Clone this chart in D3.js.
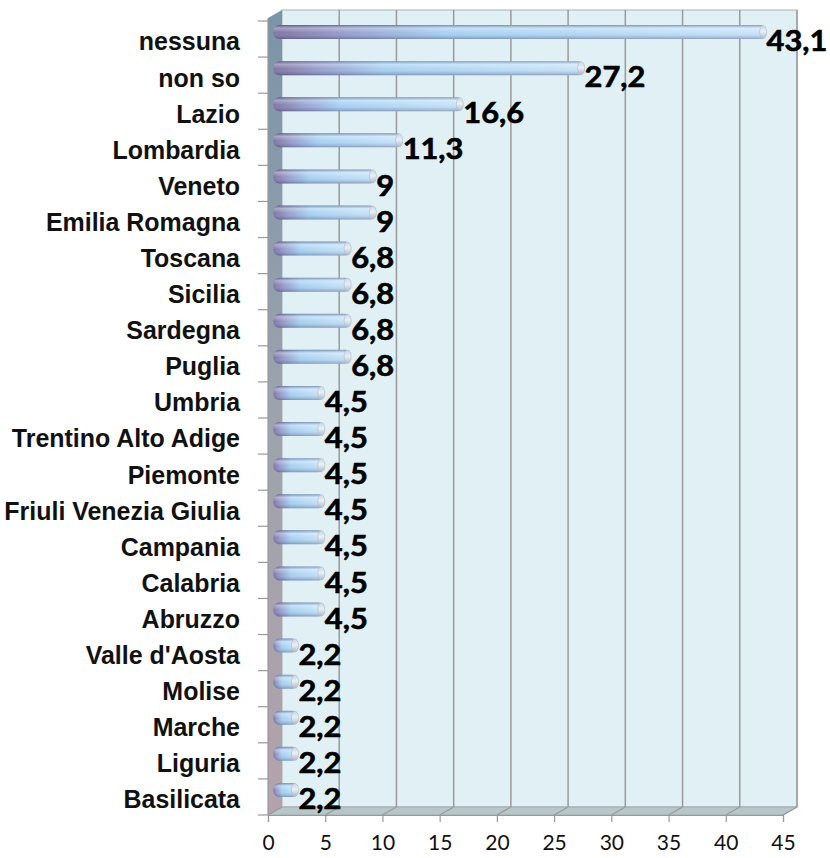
<!DOCTYPE html>
<html><head><meta charset="utf-8">
<script src="https://cdn.jsdelivr.net/npm/d3@7"></script>
<style>html,body{margin:0;padding:0;background:#fff;}</style>
</head><body>
<svg id="chart" width="830" height="858"></svg>
<script>
const categories = ["nessuna","non so","Lazio","Lombardia","Veneto","Emilia Romagna","Toscana","Sicilia","Sardegna","Puglia","Umbria","Trentino Alto Adige","Piemonte","Friuli Venezia Giulia","Campania","Calabria","Abruzzo","Valle d'Aosta","Molise","Marche","Liguria","Basilicata"];
const values = [43.1,27.2,16.6,11.3,9,9,6.8,6.8,6.8,6.8,4.5,4.5,4.5,4.5,4.5,4.5,4.5,2.2,2.2,2.2,2.2,2.2];
const xTicks = [0,5,10,15,20,25,30,35,40,45];

const svg = d3.select("#chart");
const defs = svg.append("defs");

// geometry
const depthX = 14, depthY = -8;          // 3D depth offset (front -> back)
const frontTop = 18, frontBottom = 815;
const x = d3.scaleLinear().domain([0,45]).range([268,783]);
const y = d3.scaleBand().domain(categories).range([21, frontBottom]);
const fmt = v => String(v).replace(".", ",");

// gradients
const lw = defs.append("linearGradient").attr("id","leftWall").attr("x1",0).attr("y1",0).attr("x2",0).attr("y2",1);
lw.append("stop").attr("offset","0%").attr("stop-color","#7b94a8");
lw.append("stop").attr("offset","50%").attr("stop-color","#9ca3ad");
lw.append("stop").attr("offset","100%").attr("stop-color","#b4a2ab");

const bh = defs.append("linearGradient").attr("id","barH").attr("x1",0).attr("y1",0).attr("x2",1).attr("y2",0);
bh.append("stop").attr("offset","0%").attr("stop-color","#7a6e9e");
bh.append("stop").attr("offset","15%").attr("stop-color","#939ccc");
bh.append("stop").attr("offset","35%").attr("stop-color","#a4d0f2");
bh.append("stop").attr("offset","100%").attr("stop-color","#c6e3f9");

const bv = defs.append("linearGradient").attr("id","barV").attr("x1",0).attr("y1",0).attr("x2",0).attr("y2",1);
bv.append("stop").attr("offset","0%").attr("stop-color","#2c2c5a").attr("stop-opacity",0.4);
bv.append("stop").attr("offset","22%").attr("stop-color","#ffffff").attr("stop-opacity",0.35);
bv.append("stop").attr("offset","55%").attr("stop-color","#ffffff").attr("stop-opacity",0.05);
bv.append("stop").attr("offset","100%").attr("stop-color","#2c2c5a").attr("stop-opacity",0.35);

const cap = defs.append("linearGradient").attr("id","cap").attr("x1",0).attr("y1",0).attr("x2",0).attr("y2",1);
cap.append("stop").attr("offset","0%").attr("stop-color","#cdd7e2");
cap.append("stop").attr("offset","45%").attr("stop-color","#e8f0f7");
cap.append("stop").attr("offset","100%").attr("stop-color","#b0bac7");

const x0 = x(0), x45 = x(45);
const backTop = frontTop + depthY;
const backBottom = frontBottom + depthY;

// back wall
svg.append("rect")
  .attr("x", x0 + depthX).attr("y", backTop)
  .attr("width", x45 - x0).attr("height", backBottom - backTop)
  .attr("fill", "#e1f0f5").attr("stroke","#a9b1b4").attr("stroke-width",1);

// floor
svg.append("path")
  .attr("d", `M${x0},${frontBottom} L${x45},${frontBottom} L${x45+depthX},${backBottom} L${x0+depthX},${backBottom} Z`)
  .attr("fill","#b7c7c9").attr("stroke","#a2aaad");

// left wall
svg.append("path")
  .attr("d", `M${x0},${frontTop} L${x0+depthX},${backTop} L${x0+depthX},${backBottom} L${x0},${frontBottom} Z`)
  .attr("fill","url(#leftWall)");

// gridlines on back wall + floor
const grid = svg.append("g");
xTicks.forEach(t => {
  if (t > 0) {
    grid.append("line")
      .attr("x1", x(t)+depthX).attr("x2", x(t)+depthX)
      .attr("y1", backTop).attr("y2", backBottom)
      .attr("stroke","#9a9a9a").attr("stroke-width",1.5);
  }
  grid.append("line")
    .attr("x1", x(t)).attr("y1", frontBottom)
    .attr("x2", x(t)+depthX).attr("y2", backBottom)
    .attr("stroke","#9a9a9a").attr("stroke-width",1.2);
});

// bottom axis
const xAxis = svg.append("g").attr("transform",`translate(0,${frontBottom})`)
  .call(d3.axisBottom(x).tickValues(xTicks).tickSize(7).tickPadding(13));
xAxis.select(".domain").attr("stroke","#999").attr("stroke-width",1.2);
xAxis.selectAll(".tick line").attr("stroke","#999").attr("stroke-width",1.2);
xAxis.selectAll("text").attr("font-family","Lato, 'Open Sans', sans-serif")
  .attr("font-size",21).attr("fill","#111");

// left axis ticks
const leftAxis = svg.append("g");
leftAxis.append("line").attr("x1",x0).attr("x2",x0).attr("y1",frontTop).attr("y2",frontBottom)
  .attr("stroke","#999").attr("stroke-width",1.2);
const bounds = categories.map(c => y(c)).concat([frontBottom]);
leftAxis.selectAll("line.t").data(bounds).join("line").attr("class","t")
  .attr("x1", x0-10).attr("x2", x0).attr("y1", d=>d).attr("y2", d=>d)
  .attr("stroke","#999").attr("stroke-width",1.2);

// category labels
svg.append("g").selectAll("text").data(categories).join("text")
  .attr("transform", d => `translate(240,${y(d)+y.bandwidth()/2 + 2}) scale(0.96,1)`)
  .attr("text-anchor","end").attr("dy","0.36em")
  .attr("font-family","'Liberation Sans', Arial, sans-serif")
  .attr("font-weight","bold").attr("font-size",26).attr("fill","#111")
  .text(d => d);

// bars (cylinders)
const barH = 14;
const bx0 = x0 + depthX*0.38;
const bxs = v => bx0 + (x(v) - x0);
const barY = c => y(c) + y.bandwidth()/2 - 7 - barH/2;
const bars = svg.append("g");
categories.forEach((c,i) => {
  const v = values[i];
  const xe = bxs(v);
  const yy = barY(c);
  bars.append("rect").attr("x", bx0).attr("y", yy).attr("width", xe - bx0).attr("height", barH)
    .attr("rx", 6).attr("fill","url(#barH)");
  bars.append("rect").attr("x", bx0).attr("y", yy).attr("width", xe - bx0).attr("height", barH)
    .attr("rx", 6).attr("fill","url(#barV)");
  bars.append("ellipse").attr("cx", xe - 3.5).attr("cy", yy + barH/2).attr("rx", 3.5).attr("ry", barH/2 - 0.5)
    .attr("fill","url(#cap)").attr("stroke","#b0b9c6").attr("stroke-width",0.6);
});

// value labels
svg.append("g").selectAll("text").data(categories).join("text")
  .attr("transform", (d,i) => `translate(${bxs(values[i])},${y(d)+y.bandwidth()/2 + 2}) scale(1.1,1)`)
  .attr("dy","0.36em")
  .attr("font-family","Lato, 'Open Sans', sans-serif")
  .attr("font-weight","bold").attr("font-size",28).attr("fill","#000")
  .attr("stroke","#000").attr("stroke-width",0.6)
  .text((d,i) => fmt(values[i]));
</script>
</body></html>
